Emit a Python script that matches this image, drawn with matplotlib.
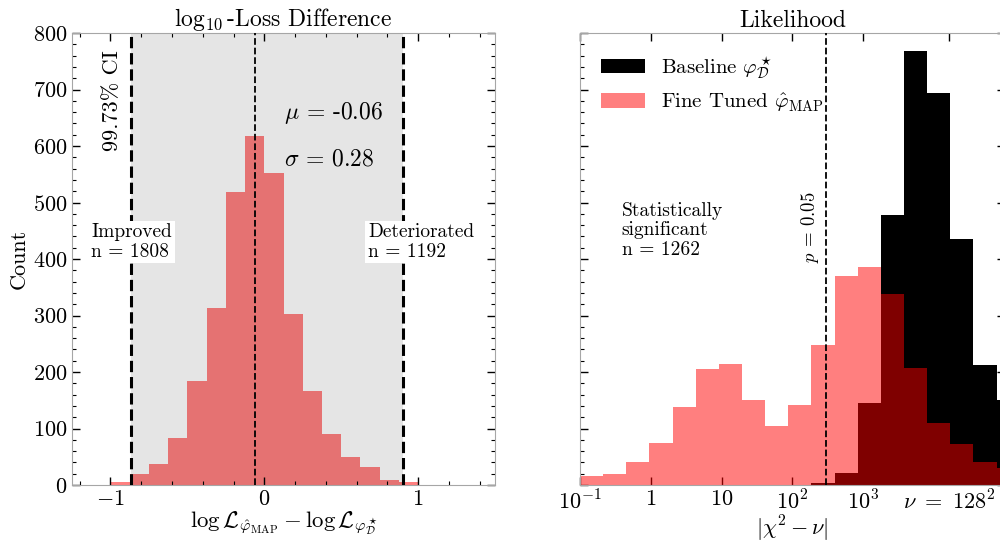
import numpy as np
import matplotlib
matplotlib.use("Agg")
import matplotlib.pyplot as plt
from matplotlib.patches import Patch
from matplotlib.ticker import MultipleLocator, NullLocator

plt.rcParams["font.family"] = "serif"
plt.rcParams["font.serif"] = ["cmr10"]
plt.rcParams["mathtext.fontset"] = "cm"
plt.rcParams["axes.formatter.use_mathtext"] = True

# log10 loss difference histogram (fine tuned minus baseline)
diff_edges = np.linspace(-1.0, 1.0, 17)
diff_counts = [5, 20, 38, 84, 184, 314, 518, 618, 553, 302, 166, 90, 49, 31, 9, 6]
diff_mu = -0.06
diff_sigma = 0.28
ci_low = -0.865
ci_high = 0.90
n_improved = 1808
n_deteriorated = 1192

# |chi^2 - nu| histograms, log-spaced bins
chi_edges = np.logspace(-1, 5.534, 21)
baseline_counts = [0, 0, 0, 0, 0, 0, 0, 0, 0, 0,
                   3, 22, 145, 478, 768, 693, 436, 212, 150, 60]
finetuned_counts = [16, 20, 40, 75, 138, 206, 214, 150, 104, 141,
                    247, 370, 386, 338, 207, 109, 72, 41, 30, 10]
p_threshold = 298
nu = 128 ** 2
n_significant = 1262

fig = plt.figure(figsize=(10, 5.41), dpi=100)
ax1 = fig.add_axes([0.072, 0.1035, 0.423, 0.8355])
ax2 = fig.add_axes([0.58, 0.1035, 0.425, 0.8355])

# left panel
ax1.hist(diff_edges[:-1], bins=diff_edges, weights=diff_counts, color="red", alpha=0.5, zorder=1)
ax1.axvspan(ci_low, ci_high, color="k", alpha=0.1, lw=0, zorder=2)
ax1.axvline(ci_low, color="k", ls="--", lw=2.2, zorder=3)
ax1.axvline(ci_high, color="k", ls="--", lw=2.2, zorder=3)
ax1.axvline(diff_mu, color="k", ls="--", lw=1.3, zorder=3)

ax1.text(-0.925, 680, "99.73% CI", rotation=90, ha="right", va="center", fontsize=16)
ax1.text(0.125, 658, r"$\mu$ = %.2f" % diff_mu, ha="left", va="center", fontsize=17)
ax1.text(0.125, 577, r"$\sigma$ = %.2f" % diff_sigma, ha="left", va="center", fontsize=17)
box = dict(facecolor="white", edgecolor="none", pad=2)
ax1.text(-1.125, 430, "Improved\nn = %d" % n_improved, ha="left", va="center",
         fontsize=14, linespacing=1.1, bbox=box, zorder=4)
ax1.text(0.675, 430, "Deteriorated\nn = %d" % n_deteriorated, ha="left", va="center",
         fontsize=14, linespacing=1.1, bbox=box, zorder=4)

ax1.set_xlim(-1.25, 1.5)
ax1.set_ylim(0, 800)
ax1.set_xticks([-1, 0, 1])
ax1.xaxis.set_minor_locator(MultipleLocator(0.2))
ax1.yaxis.set_major_locator(MultipleLocator(100))
ax1.yaxis.set_minor_locator(MultipleLocator(20))
ax1.set_title(r"$\log_{10}$-Loss Difference", fontsize=17, pad=4)
ax1.set_ylabel("Count", fontsize=16, labelpad=3)
ax1.set_xlabel(r"$\log\mathcal{L}_{\hat{\varphi}_{\mathrm{MAP}}} - \log\mathcal{L}_{\varphi^\star_{\mathcal{D}}}$",
               fontsize=16.5, labelpad=0)

# right panel
ax2.hist(chi_edges[:-1], bins=chi_edges, weights=baseline_counts, color="black", zorder=1)
ax2.hist(chi_edges[:-1], bins=chi_edges, weights=finetuned_counts, color="red", alpha=0.5, zorder=2)
ax2.axvline(p_threshold, color="k", ls="--", lw=1.3, zorder=3)
ax2.text(250, 393, r"$p$ = 0.05", rotation=90, ha="right", va="bottom", fontsize=13.5)
ax2.text(0.39, 451, "Statistically\nsignificant\nn = %d" % n_significant,
         ha="left", va="center", fontsize=14, linespacing=1.1)

ax2.set_xscale("log")
ax2.set_xlim(0.1, 1e5)
ax2.set_ylim(0, 800)
ax2.set_xticks([0.1, 1, 10, 100, 1000, nu])
ax2.set_xticklabels([r"$10^{-1}$", r"$1$", r"$10$", r"$10^2$", r"$10^3$", r"$\nu\ =\ 128^2$"])
ax2.xaxis.set_minor_locator(NullLocator())
ax2.yaxis.set_major_locator(MultipleLocator(100))
ax2.yaxis.set_minor_locator(MultipleLocator(20))
ax2.tick_params(labelleft=False)
ax2.set_title("Likelihood", fontsize=17, pad=4)
ax2.set_xlabel(r"$|\chi^2 - \nu|$", fontsize=16, labelpad=0)

handles = [Patch(facecolor="black", edgecolor="none", label=r"Baseline $\varphi^\star_{\mathcal{D}}$"),
           Patch(facecolor="red", edgecolor="none", alpha=0.5,
                 label=r"Fine Tuned $\hat{\varphi}_{\mathrm{MAP}}$")]
ax2.legend(handles=handles, loc="upper left", frameon=False, fontsize=15, handlelength=2.1,
           borderaxespad=0.6)

for ax in (ax1, ax2):
    ax.tick_params(which="both", direction="in", top=True, right=True, labelsize=16)
    ax.tick_params(which="major", length=6, width=1)
    ax.tick_params(which="minor", length=3, width=0.8)
    for s in ax.spines.values():
        s.set_color("0.65")

fig.savefig("out.png", dpi=100)
